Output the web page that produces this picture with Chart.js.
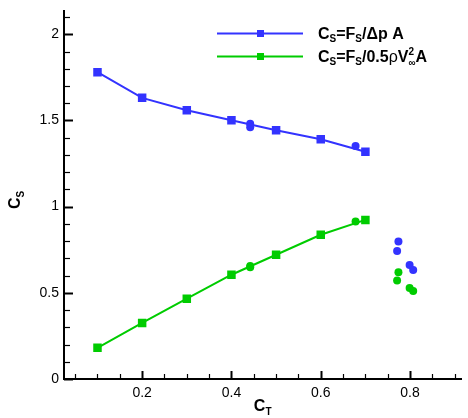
<!DOCTYPE html>
<html>
<head>
<meta charset="utf-8">
<script src="https://cdn.jsdelivr.net/npm/chart.js@4.4.1/dist/chart.umd.min.js"></script>
<style>
  html, body { margin: 0; padding: 0; background: #fff; }
  #wrap { width: 468px; height: 418px; }
</style>
</head>
<body>
<div id="wrap"><canvas id="csChart" width="468" height="418"></canvas></div>
<script>
// C_T values of the two measured curves
const ctLine = [0.1, 0.2, 0.3, 0.4, 0.5, 0.6, 0.7];
const csDeltaP = [1.78, 1.631, 1.559, 1.501, 1.443, 1.391, 1.318];
const csDynamic = [0.181, 0.325, 0.466, 0.605, 0.721, 0.837, 0.923];

// extra single points (circles)
const ctExtra = [0.442, 0.442, 0.678, 0.774, 0.771, 0.799, 0.807];
const csDeltaPExtra = [1.481, 1.461, 1.352, 0.798, 0.742, 0.661, 0.632];
const csDynamicExtra = [0.656, 0.648, 0.914, 0.619, 0.572, 0.528, 0.51];

const xMajor = [0.2, 0.4, 0.6, 0.8];
const yMajor = [0, 0.5, 1, 1.5, 2];

const BLUE = "#3333ff";
const GREEN = "#00cc00";
const FONT = "'Liberation Sans', Arial, Helvetica, sans-serif";

const pts = (xs, ys) => xs.map((x, i) => ({ x: x, y: ys[i] }));
const isMajor = (v, list) => list.some(m => Math.abs(m - v) < 1e-6);

// draws text with sub/superscripts, returns width
function rich(ctx, parts, x, y, size, draw) {
  const small = Math.round(size * 0.62);
  let cx = x;
  ctx.textBaseline = "alphabetic";
  ctx.textAlign = "left";
  for (const p of parts) {
    if (p.sup !== undefined && p.sub !== undefined) {
      ctx.font = "bold " + small + "px " + FONT;
      const w = Math.max(ctx.measureText(p.sup).width, ctx.measureText(p.sub).width);
      if (draw) {
        ctx.fillText(p.sup, cx, y - size * 0.42);
        ctx.fillText(p.sub, cx, y + size * 0.28);
      }
      cx += w;
    } else if (p.sub !== undefined) {
      ctx.font = "bold " + small + "px " + FONT;
      if (draw) ctx.fillText(p.sub, cx, y + size * 0.22);
      cx += ctx.measureText(p.sub).width;
    } else {
      ctx.font = (p.plain ? "" : "bold ") + size + "px " + FONT;
      if (draw) ctx.fillText(p.t, cx, y);
      cx += ctx.measureText(p.t).width;
    }
  }
  return cx - x;
}

const legendItems = [
  [{ t: "C" }, { sub: "S" }, { t: "=F" }, { sub: "S" }, { t: "/Δp A" }],
  [{ t: "C" }, { sub: "S" }, { t: "=F" }, { sub: "S" }, { t: "/0.5" }, { t: "ρ", plain: true }, { t: "V" }, { sup: "2", sub: "∞" }, { t: "A" }]
];

const decorPlugin = {
  id: "decor",
  afterDraw(chart) {
    const ctx = chart.ctx;
    const area = chart.chartArea;
    const xs = chart.scales.x, ys = chart.scales.y;
    ctx.save();
    ctx.strokeStyle = "#000";
    // inward tick marks
    xs.ticks.forEach(t => {
      const px = Math.round(xs.getPixelForValue(t.value)) + 0.5;
      const major = isMajor(t.value, xMajor);
      ctx.lineWidth = major ? 2 : 1.2;
      ctx.beginPath();
      ctx.moveTo(px, area.bottom);
      ctx.lineTo(px, area.bottom - (major ? 8 : 5));
      ctx.stroke();
    });
    ys.ticks.forEach(t => {
      const py = Math.round(ys.getPixelForValue(t.value)) + 0.5;
      const major = isMajor(t.value, yMajor);
      ctx.lineWidth = major ? 2 : 1.2;
      ctx.beginPath();
      ctx.moveTo(area.left, py);
      ctx.lineTo(area.left + (major ? 9 : 6), py);
      ctx.stroke();
    });

    ctx.fillStyle = "#000";
    // x axis title
    const xt = [{ t: "C" }, { sub: "T" }];
    const wx = rich(ctx, xt, 0, 0, 16, false);
    rich(ctx, xt, (area.left + area.right) / 2 - wx / 2, 411, 16, true);
    // y axis title (rotated)
    ctx.save();
    ctx.translate(20, 200);
    ctx.rotate(-Math.PI / 2);
    const yt = [{ t: "C" }, { sub: "S" }];
    const wy = rich(ctx, yt, 0, 0, 16, false);
    rich(ctx, yt, -wy / 2, 0, 16, true);
    ctx.restore();

    // legend
    const rows = [33.5, 56.5];
    [0, 1].forEach(i => {
      const ds = chart.data.datasets[i];
      const y = rows[i];
      ctx.strokeStyle = ds.borderColor;
      ctx.lineWidth = 2;
      ctx.beginPath();
      ctx.moveTo(217, y);
      ctx.lineTo(303, y);
      ctx.stroke();
      ctx.fillStyle = ds.backgroundColor;
      ctx.fillRect(257, y - 3.5, 7, 7);
      ctx.fillStyle = "#000";
      rich(ctx, legendItems[i], 318, y + 5, 16, true);
    });
    ctx.restore();
  }
};

new Chart(document.getElementById("csChart"), {
  type: "scatter",
  data: {
    datasets: [
      {
        label: "Cs=Fs/Δp A",
        data: pts(ctLine, csDeltaP),
        showLine: true,
        borderColor: BLUE,
        backgroundColor: BLUE,
        borderWidth: 2,
        pointStyle: "rect",
        pointRadius: 4.6,
        pointHoverRadius: 4.6
      },
      {
        label: "Cs=Fs/0.5ρV∞²A",
        data: pts(ctLine, csDynamic),
        showLine: true,
        borderColor: GREEN,
        backgroundColor: GREEN,
        borderWidth: 2,
        pointStyle: "rect",
        pointRadius: 4.6,
        pointHoverRadius: 4.6
      },
      {
        label: "extra Δp",
        data: pts(ctExtra, csDeltaPExtra),
        showLine: false,
        borderColor: BLUE,
        backgroundColor: BLUE,
        pointStyle: "circle",
        pointRadius: 4,
        borderWidth: 0
      },
      {
        label: "extra dyn",
        data: pts(ctExtra, csDynamicExtra),
        showLine: false,
        borderColor: GREEN,
        backgroundColor: GREEN,
        pointStyle: "circle",
        pointRadius: 4,
        borderWidth: 0
      }
    ]
  },
  options: {
    responsive: false,
    animation: false,
    devicePixelRatio: 1,
    layout: { padding: { top: 11, right: 2, left: 0, bottom: 0 } },
    plugins: {
      legend: { display: false },
      tooltip: { enabled: false }
    },
    scales: {
      x: {
        type: "linear",
        min: 0.025,
        max: 0.915,
        afterFit: s => { s.height = 39; s.paddingLeft = 0; s.paddingRight = 0; },
        grid: { display: false, drawTicks: false },
        border: { display: true, color: "#000", width: 2 },
        ticks: {
          stepSize: 0.05,
          includeBounds: false,
          autoSkip: false,
          maxRotation: 0,
          padding: 6,
          color: "#000",
          font: { family: FONT, size: 14 },
          callback: v => isMajor(v, xMajor) ? String(Math.round(v * 10) / 10) : ""
        }
      },
      y: {
        type: "linear",
        min: 0,
        max: 2.135,
        afterFit: s => { s.width = 64; s.paddingTop = 0; s.paddingBottom = 0; },
        grid: { display: false, drawTicks: false },
        border: { display: true, color: "#000", width: 2 },
        ticks: {
          stepSize: 0.1,
          includeBounds: false,
          autoSkip: false,
          padding: 5,
          color: "#000",
          font: { family: FONT, size: 14 },
          callback: v => isMajor(v, yMajor) ? String(Math.round(v * 10) / 10) : ""
        }
      }
    }
  },
  plugins: [decorPlugin]
});
</script>
</body>
</html>
